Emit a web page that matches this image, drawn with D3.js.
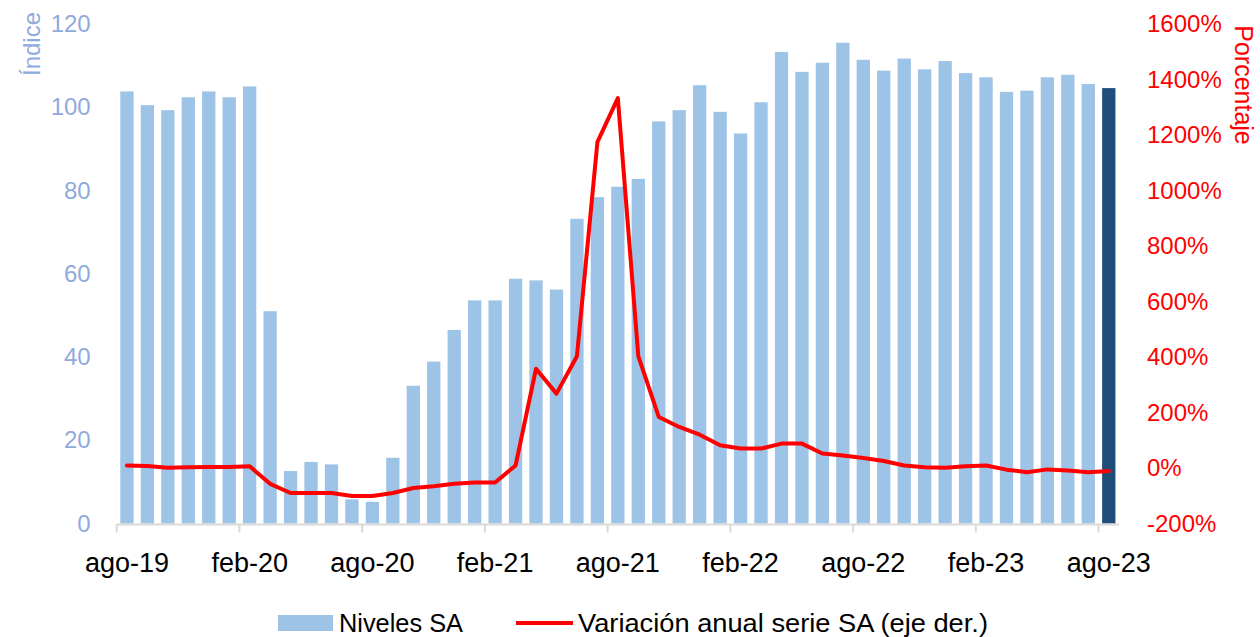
<!DOCTYPE html>
<html>
<head>
<meta charset="utf-8">
<script src="https://cdn.jsdelivr.net/npm/d3@7"></script>
<style>
  html, body { margin: 0; padding: 0; background: #ffffff; }
  svg { display: block; font-family: "Liberation Sans", Arial, sans-serif; }
</style>
</head>
<body>
<svg id="chart" width="1260" height="637"></svg>
<script>
const categories = [
  "ago-19","sep-19","oct-19","nov-19","dic-19","ene-20","feb-20","mar-20","abr-20","may-20","jun-20","jul-20",
  "ago-20","sep-20","oct-20","nov-20","dic-20","ene-21","feb-21","mar-21","abr-21","may-21","jun-21","jul-21",
  "ago-21","sep-21","oct-21","nov-21","dic-21","ene-22","feb-22","mar-22","abr-22","may-22","jun-22","jul-22",
  "ago-22","sep-22","oct-22","nov-22","dic-22","ene-23","feb-23","mar-23","abr-23","may-23","jun-23","jul-23",
  "ago-23"
];
const nivelesSA = [
  103.8,100.5,99.3,102.4,103.8,102.4,105.0,51.0,12.6,14.8,14.2,5.8,
  5.2,15.8,33.1,38.9,46.5,53.6,53.6,58.8,58.4,56.2,73.2,78.4,
  80.9,82.8,96.6,99.3,105.3,98.9,93.7,101.2,113.3,108.5,110.7,115.5,
  111.4,108.8,111.7,109.1,111.1,108.2,107.2,103.7,104.0,107.2,107.8,105.6,
  104.6
];
const variacionAnual = [
  9,7,1,3,4,4,6,-57,-90,-90,-90,-101,
  -101,-90,-72,-66,-57,-52,-52,9,358,268,403,1174,
  1333,403,184,148,120,82,70,70,88,88,52,45,
  36,25,9,3,1,6,9,-6,-15,-5,-9,-15,
  -11
];
const leftTicks = [0,20,40,60,80,100,120];
const rightTicks = [-200,0,200,400,600,800,1000,1200,1400,1600];
const xLabels = ["ago-19","feb-20","ago-20","feb-21","ago-21","feb-22","ago-22","feb-23","ago-23"];
const seriesNames = ["Niveles SA","Variación anual serie SA (eje der.)"];
const axisTitles = ["Índice","Porcentaje"];

const svg = d3.select("#chart");
const L = 116.7, R = 1119, T = 24, B = 523.5;
const leftColor = "#8FAADC", barColor = "#9DC3E6", lastBarColor = "#1F4E79", lineColor = "#FF0000";

const x = d3.scaleBand().domain(categories).range([L, R]).paddingInner(0.35).paddingOuter(0.175);
const yL = d3.scaleLinear().domain([0,120]).range([B, T]);
const yR = d3.scaleLinear().domain([-200,1600]).range([B, T]);

// bars
svg.append("g").selectAll("rect").data(categories).join("rect")
  .attr("x", d => x(d))
  .attr("width", x.bandwidth())
  .attr("y", (d,i) => yL(nivelesSA[i]))
  .attr("height", (d,i) => yL(0) - yL(nivelesSA[i]))
  .attr("fill", (d,i) => i === categories.length - 1 ? lastBarColor : barColor);

// x axis line and ticks
const step = x.step();
const xa = svg.append("g");
xa.append("line").attr("x1", L).attr("x2", R).attr("y1", B + 1).attr("y2", B + 1)
  .attr("stroke", "#D9D9D9").attr("stroke-width", 2);
xa.selectAll("line.tk").data(xLabels).join("line").attr("class","tk")
  .attr("x1", d => x(d) - (step - x.bandwidth())/2)
  .attr("x2", d => x(d) - (step - x.bandwidth())/2)
  .attr("y1", B + 1).attr("y2", B + 9)
  .attr("stroke", "#D9D9D9").attr("stroke-width", 2);

const xAxis = d3.axisBottom(x).tickValues(xLabels).tickSize(0).tickPadding(0);
const gx = svg.append("g").attr("transform", `translate(0,${B + 29})`).call(xAxis);
gx.select(".domain").remove();
gx.selectAll("text").attr("font-size", 27).attr("fill", "#000").attr("dy", "0.71em")
  .attr("font-family", "'Liberation Sans', Arial, sans-serif");

// left axis
const gl = svg.append("g").attr("transform", `translate(${L - 26},0)`)
  .call(d3.axisLeft(yL).tickValues(leftTicks).tickSize(0).tickPadding(0));
gl.select(".domain").remove();
gl.selectAll("text").attr("font-size", 24).attr("fill", leftColor)
  .attr("font-family", "'Liberation Sans', Arial, sans-serif");

// right axis
const gr = svg.append("g").attr("transform", `translate(1147,0)`)
  .call(d3.axisRight(yR).tickValues(rightTicks).tickSize(0).tickPadding(0).tickFormat(d => d + "%"));
gr.select(".domain").remove();
gr.selectAll("text").attr("font-size", 24).attr("fill", lineColor)
  .attr("font-family", "'Liberation Sans', Arial, sans-serif");

// line
const line = d3.line()
  .x((d,i) => x(categories[i]) + x.bandwidth()/2)
  .y(d => yR(d));
svg.append("path").datum(variacionAnual)
  .attr("d", line).attr("fill", "none").attr("stroke", lineColor)
  .attr("stroke-width", 4).attr("stroke-linejoin", "round").attr("stroke-linecap", "round");

// axis titles
svg.append("text").attr("transform", "translate(40,44) rotate(-90)")
  .attr("text-anchor", "middle").attr("font-size", 24).attr("fill", leftColor).text(axisTitles[0]);
svg.append("text").attr("transform", "translate(1235,85) rotate(90)")
  .attr("text-anchor", "middle").attr("font-size", 25).attr("fill", lineColor).text(axisTitles[1]);

// legend
const lg = svg.append("g");
lg.append("rect").attr("x", 278).attr("y", 615).attr("width", 55).attr("height", 16).attr("fill", barColor);
lg.append("text").attr("x", 339).attr("y", 632).attr("font-size", 25.5).attr("fill", "#000")
  .attr("textLength", 124).attr("lengthAdjust", "spacingAndGlyphs").text(seriesNames[0]);
lg.append("line").attr("x1", 516).attr("x2", 573).attr("y1", 623).attr("y2", 623)
  .attr("stroke", lineColor).attr("stroke-width", 4);
lg.append("text").attr("x", 578).attr("y", 632).attr("font-size", 25.5).attr("fill", "#000")
  .attr("textLength", 410).attr("lengthAdjust", "spacingAndGlyphs").text(seriesNames[1]);
</script>
</body>
</html>
